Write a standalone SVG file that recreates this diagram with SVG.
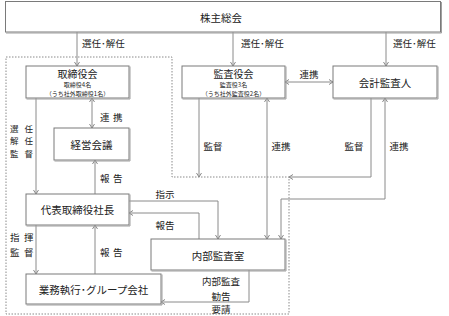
<svg xmlns="http://www.w3.org/2000/svg" width="449" height="316" viewBox="0 0 449 316">
<style>
text{font-family:"Noto Sans CJK JP","Noto Sans",sans-serif;fill:#222;}
.box{fill:#fff;stroke:#7a7a7a;stroke-width:1;}
.sh{fill:none;stroke:#a0a0a0;stroke-width:1;}
.t{font-size:10.5px;text-anchor:middle;dominant-baseline:central;}
.tt{font-size:10px;text-anchor:middle;dominant-baseline:central;}
.s{font-size:6px;text-anchor:middle;dominant-baseline:central;}
.l{font-size:9.5px;dominant-baseline:central;}
.v{font-size:8.5px;dominant-baseline:central;}
.lc{font-size:9.5px;text-anchor:middle;dominant-baseline:central;}
.c{fill:none;stroke:#8a8a8a;stroke-width:1;}
.dot{fill:none;stroke:#8a8a8a;stroke-width:1;stroke-dasharray:1.5 1.5;}
</style>
<defs>
<marker id="ah" markerWidth="6" markerHeight="6" refX="5" refY="3" orient="auto-start-reverse" markerUnits="userSpaceOnUse">
<path d="M1,0.5 L5,3 L1,5.5" fill="none" stroke="#8a8a8a" stroke-width="1"/>
</marker>
</defs>

<path class="dot" d="M6,57 H172 V177 H289 V314 H6 Z"/>

<g id="connectors">
<line class="c" x1="77" y1="32" x2="77" y2="66" marker-end="url(#ah)"/>
<line class="c" x1="233" y1="32" x2="233" y2="66" marker-end="url(#ah)"/>
<line class="c" x1="386" y1="32" x2="386" y2="66" marker-end="url(#ah)"/>
<line class="c" x1="285" y1="82" x2="333" y2="82" marker-start="url(#ah)" marker-end="url(#ah)"/>
<line class="c" x1="92" y1="98" x2="92" y2="128" marker-start="url(#ah)" marker-end="url(#ah)"/>
<line class="c" x1="36" y1="98" x2="36" y2="194" marker-end="url(#ah)"/>
<line class="c" x1="95" y1="194" x2="95" y2="160" marker-end="url(#ah)"/>
<line class="c" x1="36" y1="225" x2="36" y2="274" marker-end="url(#ah)"/>
<line class="c" x1="95" y1="274" x2="95" y2="225" marker-end="url(#ah)"/>
<path class="c" d="M129,201 H218 V239" marker-end="url(#ah)"/>
<path class="c" d="M199,239 V213 H129" marker-end="url(#ah)"/>
<path class="c" d="M249,270 V302 H161" marker-end="url(#ah)"/>
<line class="c" x1="199" y1="98" x2="199" y2="177" marker-end="url(#ah)"/>
<line class="c" x1="267" y1="98" x2="267" y2="239" marker-start="url(#ah)" marker-end="url(#ah)"/>
<path class="c" d="M371,98 V177 H289" marker-end="url(#ah)"/>
<path class="c" d="M385,98 V199 H281 V239" marker-start="url(#ah)" marker-end="url(#ah)"/>
<text class="l" x="82" y="43">選任･解任</text>
<text class="l" x="241" y="43">選任･解任</text>
<text class="l" x="393" y="43">選任･解任</text>
<text class="lc" x="309" y="74">連携</text>
<text class="l" x="100 113" y="117">連携</text>
<text class="v"><tspan x="10 24.5" y="127.5">選任</tspan><tspan x="10 24.5" y="140">解任</tspan><tspan x="10 24.5" y="152.5">監督</tspan></text>
<text class="l" x="100 113" y="178">報告</text>
<text class="l"><tspan x="10 24" y="237">指揮</tspan><tspan x="10 24" y="252">監督</tspan></text>
<text class="l" x="100 113" y="252">報告</text>
<text class="lc" x="165" y="194">指示</text>
<text class="lc" x="165" y="225">報告</text>
<text class="lc" x="213" y="146">監督</text>
<text class="lc" x="281" y="146">連携</text>
<text class="lc" x="354" y="146">監督</text>
<text class="lc" x="399" y="146">連携</text>
<text class="lc"><tspan x="221" y="281">内部監査</tspan><tspan x="221" y="295.5">勧告</tspan><tspan x="221" y="309">要請</tspan></text>
</g>

<g id="shareholders">
<rect class="box" x="5.5" y="1.5" width="435" height="30.5"/>
<path class="sh" d="M6,33 H441.5 V2"/>
<text class="t" x="221" y="17">株主総会</text>
</g>

<g id="board">
<rect class="box" x="26" y="66" width="103" height="32"/>
<path class="sh" d="M26.5,99 H130 V66.5"/>
<text class="tt" x="77.5" y="73.5">取締役会</text>
<text class="s" x="77.5" y="84.8">取締役4名</text>
<text class="s" x="77.5" y="93.2">（うち社外取締役1名）</text>
</g>

<g id="auditboard">
<rect class="box" x="182" y="66" width="103" height="32"/>
<path class="sh" d="M182.5,99 H286 V66.5"/>
<text class="tt" x="233.5" y="73.5">監査役会</text>
<text class="s" x="233.5" y="84.8">監査役3名</text>
<text class="s" x="233.5" y="93.2">（うち社外監査役2名）</text>
</g>

<g id="accountant">
<rect class="box" x="333" y="66" width="104" height="32"/>
<path class="sh" d="M333.5,99 H438 V66.5"/>
<text class="t" x="385" y="82">会計監査人</text>
</g>

<g id="mgmt">
<rect class="box" x="54" y="128" width="75" height="32"/>
<path class="sh" d="M54.5,161 H130 V128.5"/>
<text class="t" x="91.5" y="144">経営会議</text>
</g>

<g id="president">
<rect class="box" x="26" y="194" width="103" height="31"/>
<path class="sh" d="M26.5,226 H130 V194.5"/>
<text class="t" x="77.5" y="209.5">代表取締役社長</text>
</g>

<g id="internal">
<rect class="box" x="151" y="239" width="134" height="31"/>
<path class="sh" d="M151.5,271 H286 V239.5"/>
<text class="t" x="218" y="255">内部監査室</text>
</g>

<g id="business">
<rect class="box" x="26" y="274" width="135" height="30"/>
<path class="sh" d="M26.5,305 H162 V274.5"/>
<text class="t" x="93.5" y="289">業務執行･グループ会社</text>
</g>
</svg>
